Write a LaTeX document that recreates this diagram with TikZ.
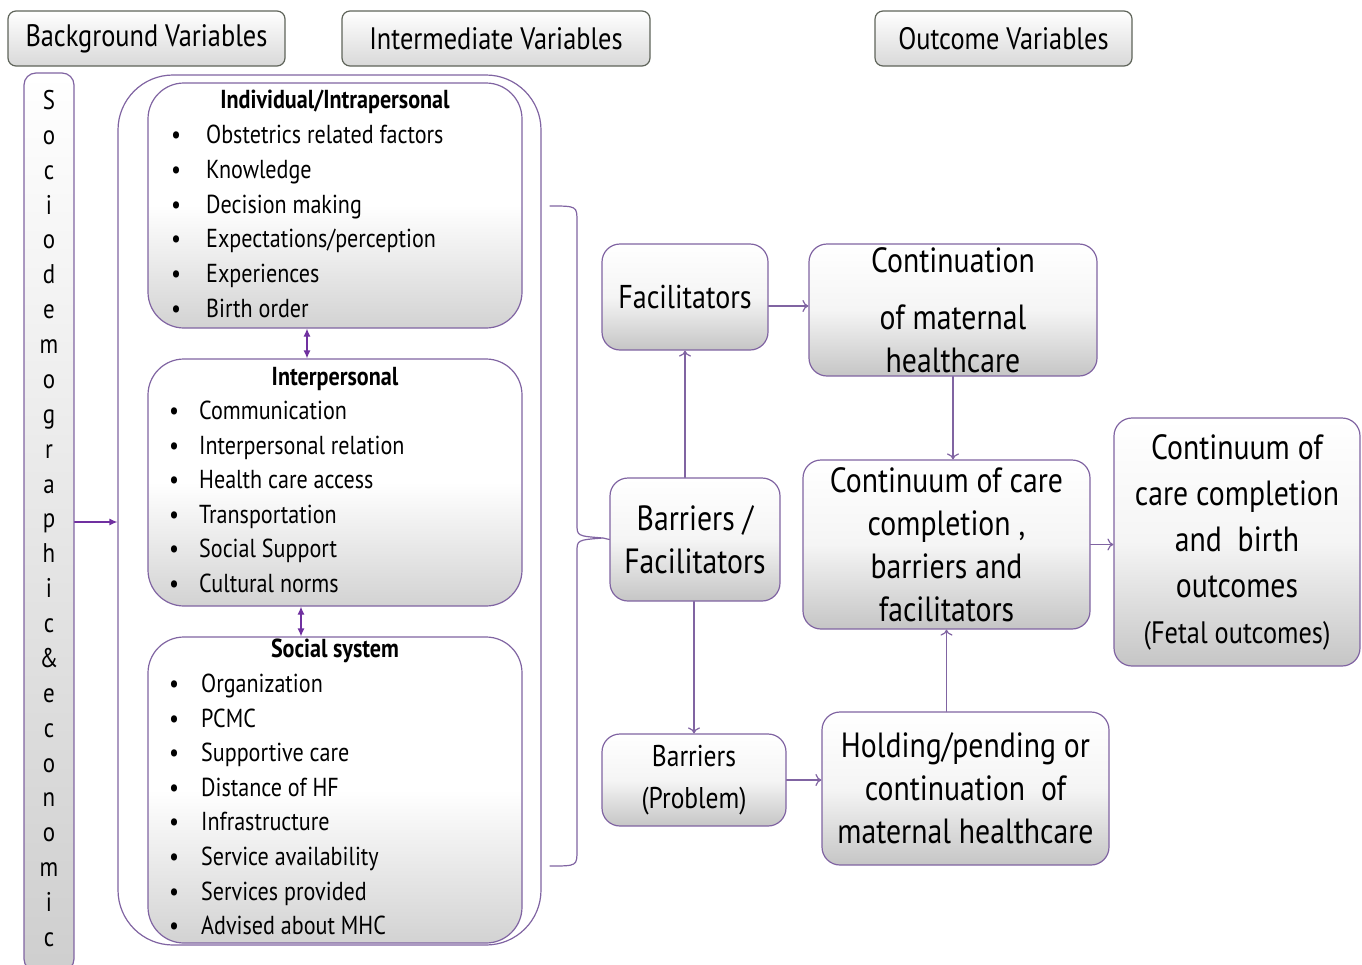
\documentclass[tikz,border=0pt]{standalone}
\usepackage{fontspec}
\setmainfont[FakeStretch=0.85]{PT Sans}
\usetikzlibrary{arrows.meta}

\definecolor{boxline}{RGB}{128,100,162}
\definecolor{tipline}{RGB}{112,48,160}
\definecolor{headline}{RGB}{95,100,90}

\tikzset{
  headbox/.style={draw=headline, line width=1.2pt, rounded corners=8pt,
    top color=white, bottom color=gray!30, minimum height=55pt,
    font=\fontsize{31}{34}\selectfont},
  stripbox/.style={draw=boxline, line width=1.2pt, rounded corners=12pt,
    top color=white, bottom color=gray!38},
  factorbox/.style={draw=boxline, line width=1.2pt, rounded corners=36pt,
    top color=white, bottom color=gray!35, middle color=white, minimum width=374pt},
  outcomebox/.style={draw=boxline, line width=1.2pt, rounded corners=18pt,
    top color=white, bottom color=gray!45, middle color=white!92!gray,
    align=center, inner sep=0pt, font=\fontsize{35}{43}\selectfont},
  listtitle/.style={inner sep=0pt, font=\fontsize{26}{30}\selectfont\bfseries},
  listitem/.style={anchor=west, inner sep=0pt, font=\fontsize{26}{30}\selectfont,
    text height=19pt, text depth=6pt},
  letter/.style={inner sep=0pt, font=\fontsize{27}{30}\selectfont,
    text height=19pt, text depth=6pt},
  link/.style={draw=boxline, line width=1.2pt, -{To[length=6pt,width=12pt]}},
  twoway/.style={draw=tipline, line width=1.2pt, {Latex[length=8pt,width=7pt]}-{Latex[length=8pt,width=7pt]}},
}

\begin{document}
\begin{tikzpicture}[x=1pt,y=-1pt,>=latex,line cap=round]
    \useasboundingbox (0,0) rectangle (1362,964);
    \clip (0,0) rectangle (1362,964);

    % the three headings
    \node[headbox, minimum width=277pt] (bgvar)  at (146.5,38.5) {Background Variables};
    \node[headbox, minimum width=308pt] (intvar) at (496,38.5)   {Intermediate Variables};
    \node[headbox, minimum width=257pt] (outvar) at (1003.5,38.5) {Outcome Variables};

    % socio-demographic strip, written letter by letter
    \node[stripbox, minimum width=50pt, minimum height=898pt] (socio) at (49,522) {};
    \foreach \ch [count=\i from 0] in {S,o,c,i,o,d,e,m,o,g,r,a,p,h,i,c,\&,e,c,o,n,o,m,i,c}
        \node[letter] (socio-\i) at (49,103+34.87*\i) {\ch};

    % the big frame round the intermediate variables
    \node[draw=boxline, line width=1.2pt, rounded corners=55pt, fill=white,
          minimum width=423pt, minimum height=870pt] (outer) at (329.5,510) {};
    \draw[tipline, line width=1.2pt, -{Latex[length=8pt,width=7pt]}] (socio.east) -- (outer.west |- socio.east);

    % individual level
    \node[factorbox, minimum height=245pt] (ind) at (335,205.5) {};
    \node[listtitle] (ind-title) at (335,102) {Individual/Intrapersonal};
    \foreach \entry [count=\i from 0] in {Obstetrics related factors, Knowledge,
        Decision making, Expectations/perception, Experiences, Birth order}
        \node[listitem] (ind-\i) at (171,137+34.8*\i) {\makebox[35pt][l]{\textbullet}\entry};

    % interpersonal level
    \node[factorbox, minimum height=247pt] (inter) at (335,482.5) {};
    \node[listtitle] (inter-title) at (335,379) {Interpersonal};
    \foreach \entry [count=\i from 0] in {Communication, Interpersonal relation,
        Health care access, Transportation, Social Support, Cultural norms}
        \node[listitem] (inter-\i) at (169,413+34.6*\i) {\makebox[30pt][l]{\textbullet}\entry};

    % social system level
    \node[factorbox, minimum height=306pt] (social) at (335,790) {};
    \node[listtitle] (social-title) at (335,651) {Social system};
    \foreach \entry [count=\i from 0] in {Organization, PCMC, Supportive care,
        Distance of HF, Infrastructure, Service availability, Services provided,
        Advised about MHC}
        \node[listitem] (social-\i) at (169,686+34.6*\i) {\makebox[32pt][l]{\textbullet}\entry};

    \draw[twoway] ([xshift=-28pt]ind.south) -- ([xshift=-28pt]inter.north);
    \draw[twoway] ([xshift=-34pt]inter.south) -- ([xshift=-34pt]social.north);

    % brace gathering the three levels
    \coordinate (bracetip) at (603,538);
    \draw[boxline, line width=1.2pt] (550,206) .. controls (577,206) .. (577,222)
        -- (577,524) .. controls (577,536) .. (bracetip)
        .. controls (577,540) .. (577,552) -- (577,850)
        .. controls (577,866) .. (550,866);

    % barriers and facilitators
    \node[outcomebox, minimum width=166pt, minimum height=106pt,
          font=\fontsize{33}{43}\selectfont] (fac) at (685,297) {Facilitators};
    \node[outcomebox, minimum width=170pt, minimum height=123pt] (bf) at (695,539.5) {Barriers /\\Facilitators};
    \node[outcomebox, minimum width=184pt, minimum height=92pt,
          font=\fontsize{30}{42}\selectfont] (bp) at (694,780) {Barriers\\(Problem)};

    % outcomes
    \node[outcomebox, minimum width=288pt, minimum height=132pt] (cont) at (953,310)
        {Continuation\\[14pt]of maternal\\healthcare};
    \node[outcomebox, minimum width=287pt, minimum height=169pt] (ccc) at (946.5,544.5)
        {Continuum of care\\completion ,\\barriers and\\facilitators};
    \node[outcomebox, minimum width=287pt, minimum height=153pt] (hold) at (965.5,788.5)
        {Holding/pending or\\continuation\ \ of\\maternal healthcare};
    \node[outcomebox, minimum width=246pt, minimum height=248pt,
          font=\fontsize{35}{46}\selectfont] (fin) at (1237,542)
        {Continuum of\\care completion\\and\ \ birth\\outcomes\\{\fontsize{31}{46}\selectfont(Fetal outcomes)}};

    % connectors
    \draw[boxline, line width=1.2pt] (bracetip) -- (bf.west);
    \draw[link] (fac.south |- bf.north) -- (fac.south);
    \draw[link] (bp.north |- bf.south) -- (bp.north);
    \draw[link] ([yshift=-9pt]fac.east) -- ([yshift=-9pt]fac.east -| cont.west);
    \draw[link] (bp.east) -- (bp.east -| hold.west);
    \draw[link] (cont.south) -- (cont.south |- ccc.north);
    \draw[link] (ccc.south |- hold.north) -- (ccc.south);
    \draw[link] (ccc.east) -- (ccc.east -| fin.west);
\end{tikzpicture}
\end{document}
